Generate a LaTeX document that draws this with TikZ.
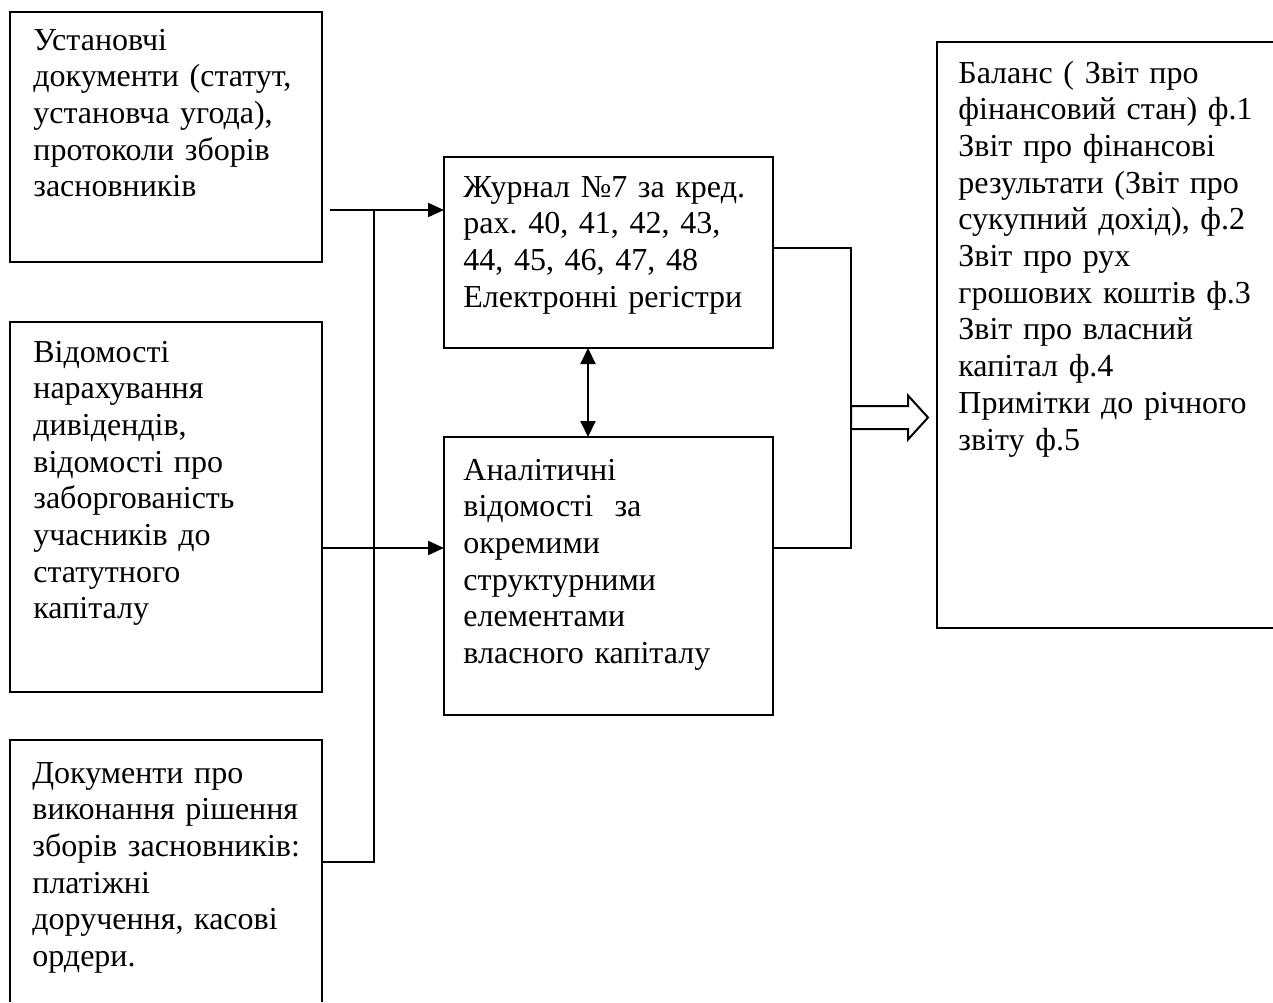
\documentclass[tikz,border=0pt]{standalone}
\usepackage{fontspec}
\setmainfont{Liberation Serif}
\usetikzlibrary{arrows.meta}
\frenchspacing
\begin{document}
\begin{tikzpicture}[x=0.5pt,y=-0.5pt,
  frame/.style={draw=black, line width=1pt, inner sep=0pt, outer sep=0pt},
  openframe/.style={draw=none, inner sep=0pt, outer sep=0pt},
  txt/.style={anchor=base west, inner sep=0pt, align=left,
    font=\fontsize{16pt}{18.35pt}\selectfont},
  link/.style={draw=black, line width=1pt},
  arr/.style={link, -{Triangle[length=8pt,width=7pt]}},
  darr/.style={link, {Triangle[length=8pt,width=7.5pt]}-{Triangle[length=8pt,width=7.5pt]}}]
\useasboundingbox (0,0) rectangle (1273,1002);

% source documents (left column)
\node[frame, minimum width=156pt, minimum height=125pt] (A) at (166,137) {};
\node[frame, minimum width=156pt, minimum height=185pt] (B) at (166,507) {};
\node[openframe, minimum width=156pt, minimum height=131pt] (C) at (166,871) {};
\draw[link] (C.south west) -- (C.north west) -- (C.north east) -- (C.south east);

% registers (middle column)
\node[frame, minimum width=164.5pt, minimum height=95.5pt] (J) at (608.5,252.5) {};
\node[frame, minimum width=164.5pt, minimum height=139pt] (K) at (608.5,576) {};

% financial statements (right column)
\node[openframe, minimum width=168pt, minimum height=293pt] (R) at (1105,335) {};
\draw[link] (R.north east) -- (R.north west) -- (R.south west) -- (R.south east);

% box texts
\node[txt, text width=150pt] (At) at ([xshift=11.5pt,yshift=-19pt]A.north west)
  {Установчі\\документи (статут,\\установча угода),\\протоколи зборів\\засновників};
\node[txt, text width=150pt] (Bt) at ([xshift=11.5pt,yshift=-20pt]B.north west)
  {Відомості\\нарахування\\дивідендів,\\відомості про\\заборгованість\\учасників до\\статутного\\капіталу};
\node[txt, text width=150pt] (Ct) at ([xshift=11pt,yshift=-21.5pt]C.north west)
  {Документи про\\виконання рішення\\зборів засновників:\\платіжні\\доручення, касові\\ордери.};
\node[txt, text width=155pt] (Jt) at ([xshift=9.5pt,yshift=-20pt]J.north west)
  {Журнал №7 за кред.\\рах. 40, 41, 42, 43,\\44, 45, 46, 47, 48\\Електронні регістри};
\node[txt, text width=155pt] (Kt) at ([xshift=9.5pt,yshift=-21.5pt]K.north west)
  {Аналітичні\\відомості\ \ за\\окремими\\структурними\\елементами\\власного капіталу};
\node[txt, text width=160pt] (Rt) at ([xshift=10.5pt,yshift=-20.5pt]R.north west)
  {Баланс ( Звіт про\\фінансовий стан) ф.1\\Звіт про фінансові\\результати (Звіт про\\сукупний дохід), ф.2\\Звіт про рух\\грошових коштів ф.3\\Звіт про власний\\капітал ф.4\\Примітки до річного\\звіту ф.5};

% collecting bus from the source documents
\coordinate (tA) at (330,210);
\coordinate (busTop) at (374,210);
\coordinate (busBot) at (374,862);
\draw[arr] (tA) -- (tA -| J.west);
\draw[link] (busTop) -- (busBot) -- (busBot -| C.east);
\draw[arr] ([yshift=-20.5pt]B.east) -- ([yshift=-20.5pt]B.east -| K.west);

% link between the journal and the analytical statements
\draw[darr] ([xshift=-10.25pt]J.south) -- ([xshift=-10.25pt]K.north);

% hollow arrow into the statements
\coordinate (m) at (851,417.5);
\draw[line width=1pt, fill=white] (m) ++(0,-11.5) -- ++(57,0) -- ++(0,-10.5)
  -- ++(20,22) -- ++(-20,22) -- ++(0,-10.5) -- ++(-57,0) -- cycle;

% outputs of the registers joined on the right
\draw[link] ([yshift=2.25pt]J.east) -| (m) |- ([yshift=14pt]K.east);
\end{tikzpicture}
\end{document}
